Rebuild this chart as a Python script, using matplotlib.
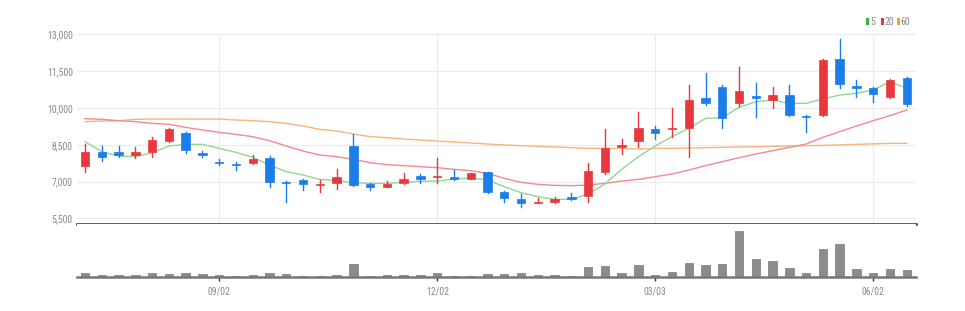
import matplotlib
matplotlib.use("Agg")
import matplotlib.pyplot as plt
from matplotlib.patches import Rectangle

# weekly candles (Korean style: red = up, blue = down)
opens = [7646, 8216, 8189, 8067, 8189, 8665, 8963, 8148, 7795, 7700,
         7741, 7944, 6980, 7061, 6857, 6925, 8461, 6898, 6790, 6925,
         7238, 7170, 7170, 7102, 7374, 6572, 6287, 6110, 6178, 6355,
         6423, 7374, 8420, 8665, 9127, 9127, 9167, 10417, 10866, 10213,
         10485, 10322, 10526, 9670, 9711, 11993, 10879, 10825, 10458, 11205]
closes = [8189, 8012, 8094, 8189, 8692, 9140, 8284, 8080, 7741, 7659,
          7904, 6993, 6925, 6898, 6898, 7170, 6857, 6790, 6885, 7116,
          7116, 7211, 7088, 7360, 6586, 6314, 6110, 6165, 6287, 6287,
          7428, 8379, 8474, 9167, 8963, 9181, 10322, 10213, 9575, 10703,
          10390, 10526, 9711, 9629, 11953, 10974, 10825, 10553, 11137, 10159]
highs = [8529, 8447, 8447, 8393, 8828, 9167, 9031, 8243, 7904, 7809,
         8080, 8040, 7021, 7089, 7061, 7510, 8923, 6925, 7021, 7333,
         7306, 7944, 7469, 7360, 7401, 6599, 6491, 6314, 6382, 6518,
         7741, 9140, 8719, 9833, 9262, 9982, 10934, 11409, 10934, 11681,
         11001, 10866, 10934, 9711, 11980, 12795, 11137, 10866, 11165, 11246]
lows = [7401, 7849, 7985, 7944, 7985, 8624, 8175, 7985, 7659, 7469,
        7714, 6789, 6178, 6654, 6586, 6681, 6817, 6654, 6763, 6898,
        6925, 6953, 7061, 7102, 6545, 6178, 5947, 6110, 6110, 6246,
        6178, 7306, 8107, 8420, 8719, 8828, 8012, 10118, 9194, 10078,
        9616, 9982, 9684, 9031, 9684, 10798, 10431, 10254, 10390, 10078]

ma5 = [8624, 8216, 8040, 8012, 8175, 8447, 8515, 8515, 8352, 8189,
       7985, 7673, 7401, 7265, 7088, 7034, 6953, 6925, 6925, 6966,
       7007, 7021, 7102, 7143, 7061, 6790, 6545, 6382, 6273, 6273,
       6491, 6900, 7500, 8012, 8447, 8827, 9167, 9575, 9602, 10023,
       10254, 10322, 10186, 10186, 10363, 10526, 10594, 10730, 11069, 10798]
ma20 = [9561, 9534, 9480, 9439, 9371, 9330, 9208, 9100, 9004, 8923,
        8828, 8665, 8447, 8243, 8080, 8012, 7904, 7768, 7687, 7646,
        7605, 7564, 7496, 7442, 7333, 7129, 6966, 6885, 6844, 6830,
        6857, 6925, 7021, 7088, 7197, 7306, 7469, 7646, 7809, 7972,
        8121, 8257, 8393, 8529, 8800, 9031, 9262, 9480, 9684, 9915]
ma60 = [9439, 9466, 9480, 9534, 9548, 9548, 9548, 9548, 9548, 9507,
        9480, 9439, 9371, 9262, 9127, 9059, 8936, 8828, 8787, 8733,
        8692, 8651, 8610, 8570, 8529, 8488, 8461, 8434, 8407, 8379,
        8352, 8352, 8339, 8325, 8352, 8352, 8366, 8380, 8393, 8406,
        8420, 8433, 8447, 8460, 8474, 8490, 8515, 8535, 8556, 8556]

volume = [33, 13, 13, 13, 40, 23, 33, 23, 17, 7,
          13, 33, 23, 7, 10, 13, 130, 7, 13, 13,
          13, 33, 7, 7, 23, 23, 33, 17, 17, 7,
          93, 110, 33, 120, 20, 47, 137, 120, 123, 460,
          173, 153, 90, 40, 273, 323, 77, 33, 80, 67]

tick_pos = [8, 21, 34, 47]
tick_labels = ["09/02", "12/02", "03/03", "06/02"]
price_ticks = [5500, 7000, 8500, 10000, 11500, 13000]

UP = "#e8383d"
DOWN = "#1a7de8"
font = ["Liberation Sans Narrow", "DejaVu Sans Condensed", "Roboto Condensed", "Liberation Sans"]
LABEL = "#8a8a8a"

fig = plt.figure(figsize=(9.65, 3.11), dpi=100)
ax = fig.add_axes([0.0798, 0.2797, 0.8694, 0.61])
axv = fig.add_axes([0.0798, 0.11, 0.8694, 0.1697])

xlim = (-0.48, 49.55)

# candles
for i in range(len(opens)):
    o, c, h, l = opens[i], closes[i], highs[i], lows[i]
    col = UP if c >= o else DOWN
    ax.plot([i, i], [l, h], color=col, lw=1.0, zorder=3)
    bottom = min(o, c)
    height = max(abs(c - o), 40)
    ax.add_patch(Rectangle((i - 0.25, bottom), 0.5, height, facecolor=col,
                           edgecolor=col, lw=0.5, zorder=4))

x = list(range(len(opens)))
ax.plot(x, ma60, color="#f7b47c", lw=1.0, zorder=2)
ax.plot(x, ma20, color="#f28b8f", lw=1.0, zorder=2)
ax.plot(x, ma5, color="#8fd88f", lw=1.0, zorder=2)

ax.set_xlim(*xlim)
ax.set_ylim(5268, 13000)
ax.set_yticks(price_ticks)
ax.set_yticklabels([f"{v:,}" for v in price_ticks], family=font, fontsize=7, color=LABEL)
ax.set_xticks(tick_pos)
ax.tick_params(axis="x", length=0, labelbottom=False)
ax.tick_params(axis="y", length=0, pad=3)
ax.grid(True, color="#ececec", lw=0.8)
ax.set_axisbelow(True)
for s in ["top", "right", "left"]:
    ax.spines[s].set_visible(False)
ax.spines["bottom"].set_color("#333333")
ax.spines["bottom"].set_linewidth(1.8)

# volume
axv.bar(x, volume, width=0.5, color="#8c8c8c", edgecolor="#7a7a7a", lw=0.5)
axv.set_xlim(*xlim)
axv.set_ylim(0, 527)
axv.set_yticks([])
axv.set_xticks(tick_pos)
axv.set_xticklabels(tick_labels, family=font, fontsize=7, color=LABEL)
axv.tick_params(axis="x", length=3, width=1, color="#333333", pad=4)
for s in ["top", "right", "left"]:
    axv.spines[s].set_visible(False)
axv.spines["bottom"].set_color("#777777")
axv.spines["bottom"].set_linewidth(1.8)

# legend
legend_items = [("5", "#2db83d", 0.8972), ("20", "#e8383d", 0.9127), ("60", "#f0a030", 0.9293)]
for label, col, xpos in legend_items:
    fig.patches.append(Rectangle((xpos, 0.9196), 0.003, 0.0225, transform=fig.transFigure,
                                 facecolor=col, edgecolor="none"))
    fig.text(xpos + 0.0042, 0.9305, label, family=font, fontsize=7, color=LABEL,
             va="center", ha="left")

fig.savefig("out.png", dpi=100)
